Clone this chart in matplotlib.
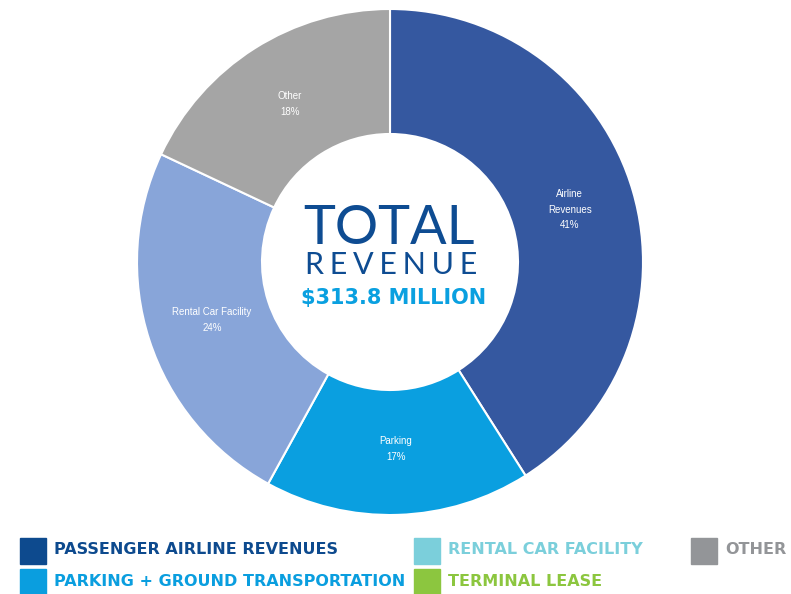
import matplotlib
matplotlib.use('Agg')
from matplotlib import pyplot as plt
from matplotlib.patches import Rectangle

# revenue shares (percent), clockwise from 12 o'clock
slice_names = ["Airline\nRevenues", "Parking", "Rental Car Facility", "Other"]
slice_values = [41, 17, 24, 18]
slice_colors = ["#3558A0", "#0A9FE0", "#88A5D9", "#A5A5A5"]

legend_labels = ["PASSENGER AIRLINE REVENUES", "PARKING + GROUND TRANSPORTATION",
                 "RENTAL CAR FACILITY", "TERMINAL LEASE", "OTHER"]
legend_colors = ["#0D4A8E", "#0A9EDF", "#7BCFDB", "#8CC63F", "#939598"]

total_text = "$313.8 MILLION"

W, H = 791, 594
fig = plt.figure(figsize=(W / 100, H / 100), dpi=100)
ax = fig.add_axes([0, 0, 1, 1])

def py(y):
    # pixel rows are counted from the top
    return H - y

labels = ["{}\n{}%".format(n, v) for n, v in zip(slice_names, slice_values)]
wedges, texts = ax.pie(slice_values, colors=slice_colors, labels=labels,
                       startangle=90, counterclock=False,
                       center=(390, py(262)), radius=253, labeldistance=0.74,
                       wedgeprops=dict(width=125, edgecolor="white", linewidth=1.5),
                       textprops=dict(color="white", fontsize=7, family="Liberation Sans",
                                      linespacing=1.7))
for t in texts:
    t.set_ha("center")
    t.set_va("center")

ax.set_xlim(0, W)
ax.set_ylim(0, H)
ax.set_aspect("auto")
ax.axis("off")

# centre title
ax.text(389, py(228), "TOTAL", ha="center", va="center", fontsize=39,
        color="#0E4C92", family="Lato", fontweight="normal")
sp = "\u2009\u200a"
ax.text(391, py(265), sp.join("REVENUE"), ha="center",
        va="center", fontsize=22, color="#0E4C92",
        family=["Lato", "DejaVu Sans"], fontweight="normal")
ax.text(394, py(298), total_text, ha="center", va="center", fontsize=15,
        color="#0AA0E0", family="DejaVu Sans", fontweight="bold")

# legend
legend_pos = [(20, 538), (20, 569), (414, 538), (414, 569), (691, 538)]
for (x, y), lab, c in zip(legend_pos, legend_labels, legend_colors):
    ax.add_patch(Rectangle((x, py(y + 26)), 26, 26, color=c, clip_on=False))
    ax.text(x + 34, py(y + 12), lab, ha="left", va="center", fontsize=11.5,
            color=c, family="DejaVu Sans", fontweight="bold")

plt.savefig("out.png", dpi=100)
